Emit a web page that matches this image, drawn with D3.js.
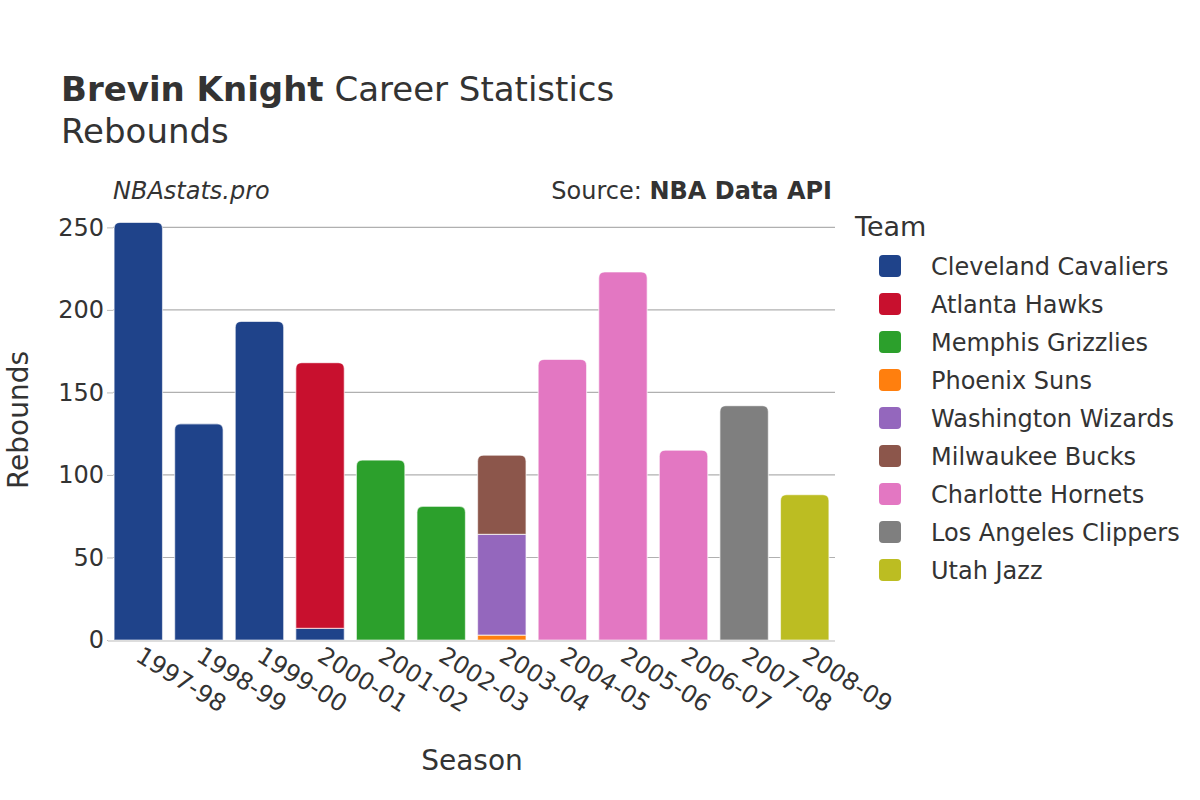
<!DOCTYPE html>
<html><head><meta charset="utf-8">
<script src="https://cdn.jsdelivr.net/npm/d3@7"></script>
<style>body{margin:0;background:#fff;font-family:"DejaVu Sans",sans-serif;}</style>
</head><body><svg id="c" width="1200" height="800"></svg>
<script>
const seasons = ["1997-98","1998-99","1999-00","2000-01","2001-02","2002-03","2003-04","2004-05","2005-06","2006-07","2007-08","2008-09"];
const teams = ["Cleveland Cavaliers","Atlanta Hawks","Memphis Grizzlies","Phoenix Suns","Washington Wizards","Milwaukee Bucks","Charlotte Hornets","Los Angeles Clippers","Utah Jazz"];
const teamColors = ["#1f438a","#c8102e","#2ca02c","#ff7f0e","#9467bd","#8c564b","#e377c2","#7f7f7f","#bcbd22"];
// values per team per season (stack order follows teams)
const cleveland = [253,131,193,7,0,0,0,0,0,0,0,0];
const atlanta   = [0,0,0,161,0,0,0,0,0,0,0,0];
const memphis   = [0,0,0,0,109,81,0,0,0,0,0,0];
const phoenix   = [0,0,0,0,0,0,3,0,0,0,0,0];
const washington= [0,0,0,0,0,0,61,0,0,0,0,0];
const milwaukee = [0,0,0,0,0,0,48,0,0,0,0,0];
const charlotte = [0,0,0,0,0,0,0,170,223,115,0,0];
const clippers  = [0,0,0,0,0,0,0,0,0,0,142,0];
const utah      = [0,0,0,0,0,0,0,0,0,0,0,88];
const yTicks = [0,50,100,150,200,250];

const series = [cleveland,atlanta,memphis,phoenix,washington,milwaukee,charlotte,clippers,utah];
const svg = d3.select("#c");
const M = {l:108, r:835, t:215, b:640};
const x = d3.scaleBand().domain(seasons).range([M.l,M.r]).paddingInner(0.2).paddingOuter(0.1);
const y = d3.scaleLinear().domain([0,257.5]).range([M.b,M.t]);
const color = d3.scaleOrdinal().domain(teams).range(teamColors);

// gridlines
svg.append("g").selectAll("line").data(yTicks.filter(d=>d>0)).join("line")
  .attr("x1",M.l+5).attr("x2",M.r).attr("y1",d=>y(d)).attr("y2",d=>y(d))
  .attr("stroke","#b0b0b0").attr("stroke-width",1.2);

// y axis
const ya = svg.append("g").attr("transform",`translate(${M.l+5},0)`)
  .call(d3.axisLeft(y).tickValues(yTicks).tickSize(6).tickPadding(3));
ya.select(".domain").remove();
ya.selectAll(".tick line").attr("stroke","#bbb");
ya.selectAll("text").attr("font-size",24).attr("fill","#333").attr("font-family","DejaVu Sans");

// stacked bars
const rows = seasons.map((s,i)=>{const o={season:s}; teams.forEach((t,j)=>o[t]=series[j][i]); return o;});
const stacked = d3.stack().keys(teams)(rows);
const r = 6;
function segPath(x0,w,y0,y1,round){
  if(!round) return `M${x0},${y0}V${y1}H${x0+w}V${y0}Z`;
  const rr = Math.min(r,(y0-y1));
  return `M${x0},${y0}V${y1+rr}Q${x0},${y1} ${x0+rr},${y1}H${x0+w-rr}Q${x0+w},${y1} ${x0+w},${y1+rr}V${y0}Z`;
}
stacked.forEach((layer,j)=>{
  svg.append("g").selectAll("path").data(layer.map((d,i)=>({d,i}))).join("path")
    .filter(o=>o.d[1]-o.d[0]>0)
    .attr("d",o=>{
      const top = d3.sum(series,s=>s[o.i]);
      return segPath(x(seasons[o.i]),x.bandwidth(),y(o.d[0]),y(o.d[1]),o.d[1]===top);
    })
    .attr("fill",color(teams[j]))
    .attr("stroke","#fff").attr("stroke-opacity",0.6).attr("stroke-width",1.2);
});

// x axis baseline
svg.append("line").attr("x1",M.l).attr("x2",M.r).attr("y1",M.b+1).attr("y2",M.b+1)
  .attr("stroke","#ddd").attr("stroke-width",2);

// x tick labels
svg.append("g").selectAll("text").data(seasons).join("text")
  .attr("transform",d=>`translate(${x(d)+x.bandwidth()/2-4},${M.b+20}) rotate(32)`)
  .attr("font-size",24).attr("fill","#333").text(d=>d);

// axis titles
svg.append("text").attr("x",472).attr("y",770).attr("text-anchor","middle")
  .attr("font-size",28).attr("fill","#333").text("Season");
svg.append("text").attr("transform","translate(18,420) rotate(-90)").attr("text-anchor","middle")
  .attr("dy","0.35em").attr("font-size",28).attr("fill","#333").text("Rebounds");

// titles
const t = svg.append("text").attr("x",61).attr("y",101).attr("font-size",34).attr("fill","#333");
t.append("tspan").attr("font-weight","bold").text("Brevin Knight");
t.append("tspan").text(" Career Statistics");
svg.append("text").attr("x",61).attr("y",143).attr("font-size",34).attr("fill","#333").text("Rebounds");
svg.append("text").attr("x",113).attr("y",199).attr("font-size",24).attr("font-style","italic").attr("fill","#333").text("NBAstats.pro");
const s = svg.append("text").attr("x",832).attr("y",199).attr("text-anchor","end").attr("font-size",24).attr("fill","#333");
s.append("tspan").text("Source: ");
s.append("tspan").attr("font-weight","bold").text("NBA Data API");

// legend
svg.append("text").attr("x",855).attr("y",236).attr("font-size",27).attr("fill","#333").text("Team");
const lg = svg.append("g").selectAll("g").data(teams).join("g")
  .attr("transform",(d,i)=>`translate(0,${266+i*38})`);
lg.append("rect").attr("x",879).attr("y",-11).attr("width",22).attr("height",22).attr("rx",4)
  .attr("fill",d=>color(d));
lg.append("text").attr("x",931).attr("y",1).attr("dy","0.35em").attr("font-size",24).attr("fill","#333").text(d=>d);
</script></body></html>
